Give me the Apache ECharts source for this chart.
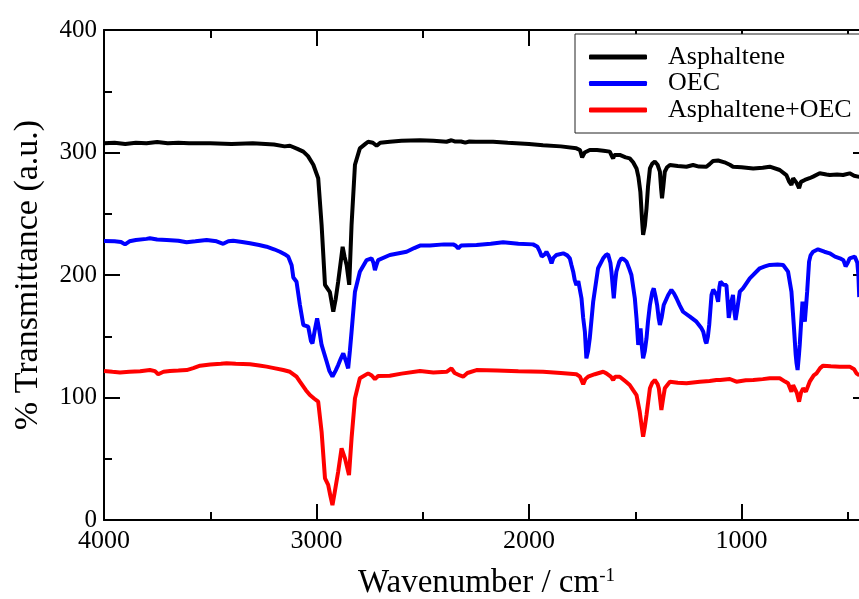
<!DOCTYPE html>
<html>
<head>
<meta charset="utf-8">
<script src="https://cdn.jsdelivr.net/npm/echarts@6/dist/echarts.min.js"></script>
<style>html,body{margin:0;padding:0;background:#fff}#c{width:859px;height:599px}</style>
</head>
<body>
<div id="c"></div>
<script>
var seriesNames = ['Asphaltene', 'OEC', 'Asphaltene+OEC'];
var xMajorTicks = [1000, 2000, 3000, 4000];
var xMinorTicks = [500, 1500, 2500, 3500];
var yTicks = [0, 100, 200, 300, 400];

var asphaltene = [[4000,307.5],[3950,308],[3900,307],[3850,308],[3800,307.5],[3750,308.5],[3700,307.5],[3650,308],[3600,307.5],[3500,307.5],[3400,307],[3300,307.5],[3200,306.5],[3150,305],[3125,305.5],[3090,303],[3062,300.7],[3040,297],[3015,290],[2992,279],[2976,241],[2960,192],[2945,188],[2937,186],[2921,170],[2910,180],[2898,194.5],[2885,212],[2877,223],[2868,215],[2858,208],[2846,192],[2835,241],[2819,290],[2796,303.4],[2770,307],[2757,308.8],[2735,308],[2717,305.5],[2700,308],[2655,308.8],[2600,309.5],[2513,310],[2450,309.5],[2388,308.8],[2365,310],[2357,311.6],[2350,309],[2341,307.5],[2320,309],[2300,308],[2280,309],[2250,308.8],[2169,308.8],[2100,308],[2000,307],[1934,306],[1850,305],[1777,303.4],[1760,302],[1750,296],[1745,295],[1738,300],[1714,302],[1680,302],[1650,301.5],[1620,300.7],[1610,297],[1604,295.2],[1598,298],[1573,298],[1545,296],[1526,295.2],[1510,292],[1494,287],[1485,280],[1476,268],[1468,245],[1463,232.7],[1455,240],[1447,254.4],[1440,272],[1431,287],[1420,291],[1408,292.5],[1395,290],[1384,284.3],[1378,270],[1374,262.6],[1368,272],[1361,284.3],[1350,288],[1337,289.8],[1300,289],[1259,288.4],[1228,289.8],[1200,288.5],[1165,288.4],[1150,290.5],[1134,293],[1110,293.5],[1080,292],[1055,290],[1040,288.4],[1000,288],[945,287],[900,287.5],[867,288.4],[820,285.7],[789,281.6],[775,276],[765,273.5],[757,279],[749,279],[740,275],[729,270.8],[720,276],[702,277.6],[680,279],[663,280.3],[632,283],[600,282],[585,281.6],[550,282],[522,281.6],[491,283],[470,281],[452,280.3],[440,280]];

var oec = [[4000,227.8],[3950,227.5],[3920,227],[3901,225],[3880,227.5],[3850,228.5],[3800,229.5],[3784,230],[3750,229],[3705,228.6],[3650,228],[3611,226.7],[3570,227.5],[3517,228.6],[3470,227.5],[3439,225.5],[3415,227.5],[3392,228],[3350,227],[3313,225.9],[3270,224.5],[3235,223.1],[3200,221],[3172,219],[3150,217],[3133,215],[3117,208],[3109,198],[3094,194.5],[3078,175.5],[3062,159.2],[3050,158.5],[3039,157.8],[3026,146],[3019,144.2],[3008,155],[2997,164.6],[2987,155],[2976,142.9],[2952,129.2],[2940,122],[2925,117],[2910,122],[2898,126.5],[2885,132],[2874,136.1],[2862,130],[2851,123.8],[2843,138],[2835,153.7],[2819,186.4],[2796,202.7],[2764,212.2],[2741,213.6],[2732,210],[2725,204],[2718,208],[2710,212.2],[2655,216.3],[2576,219],[2540,222],[2513,224],[2466,224],[2400,225],[2357,225],[2345,224],[2333,221.8],[2320,224],[2247,224.5],[2180,225.5],[2122,226.7],[2050,225.5],[1981,225],[1960,223],[1949,219],[1940,215],[1933,213.6],[1925,217],[1918,219],[1905,215],[1894,209.6],[1885,214],[1871,216.3],[1839,217.7],[1820,216],[1808,213.6],[1800,208],[1792,202.7],[1785,196],[1777,191.8],[1768,195],[1761,194.5],[1753,181],[1745,165],[1737,153.7],[1730,132],[1722,138],[1714,148.3],[1698,178.2],[1675,205.5],[1651,213.6],[1640,216],[1628,217],[1617,210],[1612,202.7],[1601,181],[1594,195],[1589,202.7],[1575,211],[1565,213.6],[1555,213],[1541,210.9],[1530,206],[1518,200],[1502,181],[1494,164.6],[1486,142.9],[1480,150],[1475,156.5],[1468,140],[1463,132],[1455,138],[1447,148.3],[1440,162],[1431,175.5],[1420,186],[1413,189.1],[1405,183],[1397,175.5],[1390,165],[1384,159.2],[1376,165],[1366,175.5],[1345,183.7],[1330,187.8],[1318,185],[1306,181],[1290,175],[1275,170],[1243,166],[1212,161.9],[1190,157],[1180,153.7],[1170,146],[1165,144.2],[1158,150],[1152,159.2],[1141,183.7],[1133,188],[1126,189.1],[1118,184],[1110,178.2],[1104,190],[1099,194.5],[1085,192],[1071,191.8],[1065,178],[1060,165],[1055,164.6],[1048,178],[1040,183.7],[1035,172],[1028,163.3],[1020,172],[1008,186.4],[993,189.1],[961,197.3],[914,205.5],[890,207],[867,208.2],[830,208.5],[804,208.2],[781,202.7],[765,186.4],[754,159.2],[745,135],[741,128],[736,122.4],[730,134],[726,142.9],[718,165],[713,178.2],[707,170],[702,161.9],[696,175],[691,186.4],[682,210.9],[675,216],[663,219],[640,221],[632,221.8],[610,219],[585,217.7],[560,215],[537,213.6],[520,212],[510,207],[506,205.5],[500,210],[491,213.6],[467,215],[455,210],[450,200],[446,182]];

var mixture = [[4000,121.6],[3960,121],[3925,120.5],[3880,121],[3830,121.5],[3784,122.4],[3760,121.5],[3745,119],[3737,119.7],[3720,121],[3690,121.6],[3650,122],[3611,122.4],[3580,124],[3548,126],[3500,127],[3450,127.5],[3423,127.9],[3380,127.5],[3313,127.1],[3270,126.2],[3235,125.2],[3200,124],[3156,122.4],[3125,121],[3094,117],[3078,112.9],[3050,106],[3031,102],[3010,99],[2992,96.6],[2976,72.1],[2960,34],[2945,28.6],[2935,20],[2925,12.2],[2915,22],[2898,39.4],[2882,58.5],[2866,50.3],[2847,36.7],[2835,66.7],[2819,99.3],[2796,115.7],[2757,119.7],[2740,118],[2725,115],[2710,117.5],[2655,117.8],[2600,119.5],[2513,121.6],[2450,120.5],[2388,121],[2365,123.8],[2350,120],[2341,118.4],[2325,118],[2310,117],[2290,120],[2247,122.4],[2150,122],[2050,121.5],[1934,121],[1850,120],[1777,119],[1760,117],[1745,110.8],[1735,115],[1722,117],[1690,119],[1651,121],[1636,119.7],[1615,117],[1604,114.3],[1595,117],[1573,117],[1545,113],[1526,110.2],[1510,106],[1494,102],[1479,88.4],[1463,68],[1455,76],[1447,85.7],[1431,107.5],[1420,112],[1408,114.3],[1395,111],[1389,107.5],[1377,89.8],[1368,100],[1361,107.5],[1337,112.9],[1300,112],[1259,111.6],[1196,112.9],[1150,113.5],[1118,114.3],[1100,114.3],[1055,115.1],[1024,112.9],[980,114],[945,114.3],[900,115],[867,115.7],[820,115.7],[795,113],[781,111.6],[765,104.8],[757,110],[749,110.2],[740,104],[729,96.6],[720,104],[710,107.5],[697,104.8],[679,112.9],[660,118],[647,119.7],[630,124],[616,126],[580,125.5],[537,125.2],[491,125.2],[470,123],[459,119.7],[445,118]];

var FONT = "'Liberation Serif', 'Times New Roman', serif";
var AX = {color: '#000', width: 2};
function plain(v) { return String(v); }

function xAx(pos, ticks, len, showLine, showLabel, extra) {
  var a = {
    type: 'value', position: pos, min: 400, max: 4000, inverse: true,
    axisLine: {show: showLine, onZero: false, lineStyle: AX},
    axisTick: {show: true, inside: true, length: len, lineStyle: AX, customValues: ticks},
    axisLabel: showLabel ? {show: true, customValues: ticks, formatter: plain, color: '#000', fontSize: 26, fontFamily: FONT, margin: 8} : {show: false},
    splitLine: {show: false}
  };
  if (extra) for (var k in extra) a[k] = extra[k];
  return a;
}
function yAx(pos, showLabel, extra) {
  var a = {
    type: 'value', position: pos, min: 0, max: 400, interval: 100,
    axisLine: {show: true, onZero: false, lineStyle: AX},
    axisTick: {show: true, inside: true, length: 16, lineStyle: AX},
    minorTick: {show: true, splitNumber: 2, length: 8, lineStyle: AX},
    axisLabel: showLabel ? {show: true, formatter: plain, color: '#000', fontSize: 25, fontFamily: FONT, margin: 7} : {show: false},
    splitLine: {show: false}, minorSplitLine: {show: false}
  };
  if (extra) for (var k in extra) a[k] = extra[k];
  return a;
}

var chart = echarts.init(document.getElementById('c'), null, {renderer: 'canvas'});
chart.setOption({
  animation: false,
  backgroundColor: '#fff',
  grid: {left: 104, top: 30, width: 765, height: 490, containLabel: false, outerBoundsMode: 'none'},
  legend: {
    data: seriesNames,
    orient: 'vertical', left: 575, top: 34,
    backgroundColor: '#fff', borderColor: '#222', borderWidth: 1,
    padding: [10, 40, 10, 14], itemGap: 0.5,
    icon: 'roundRect', itemWidth: 58, itemHeight: 5,
    textStyle: {fontSize: 26, fontFamily: FONT, color: '#000', padding: [0, 0, 0, 16]}
  },
  xAxis: [
    xAx('bottom', xMajorTicks, 16, true, true, {
      name: '{a|Wavenumber / cm}{s|-1}', nameLocation: 'middle', nameGap: 47,
      nameTextStyle: {color: '#000', fontFamily: FONT, fontSize: 33,
        rich: {a: {fontSize: 33, fontFamily: FONT, color: '#000'},
               s: {fontSize: 19, fontFamily: FONT, color: '#000', verticalAlign: 'top'}}}
    }),
    xAx('bottom', xMinorTicks, 8, false, false),
    xAx('top', xMajorTicks, 16, true, false),
    xAx('top', xMinorTicks, 8, false, false)
  ],
  yAxis: [
    yAx('left', true, {
      name: '% Transmittance (a.u.)', nameLocation: 'middle', nameGap: 59,
      nameTextStyle: {color: '#000', fontFamily: FONT, fontSize: 34}
    }),
    yAx('right', false)
  ],
  series: [
    {name: seriesNames[0], type: 'line', data: asphaltene, showSymbol: false, symbol: 'none', color: '#000000', lineStyle: {width: 4, color: '#000000'}, clip: true},
    {name: seriesNames[1], type: 'line', data: oec, showSymbol: false, symbol: 'none', color: '#0000ff', lineStyle: {width: 4, color: '#0000ff'}, clip: true},
    {name: seriesNames[2], type: 'line', data: mixture, showSymbol: false, symbol: 'none', color: '#ff0000', lineStyle: {width: 4, color: '#ff0000'}, clip: true}
  ]
});
</script>
</body>
</html>
